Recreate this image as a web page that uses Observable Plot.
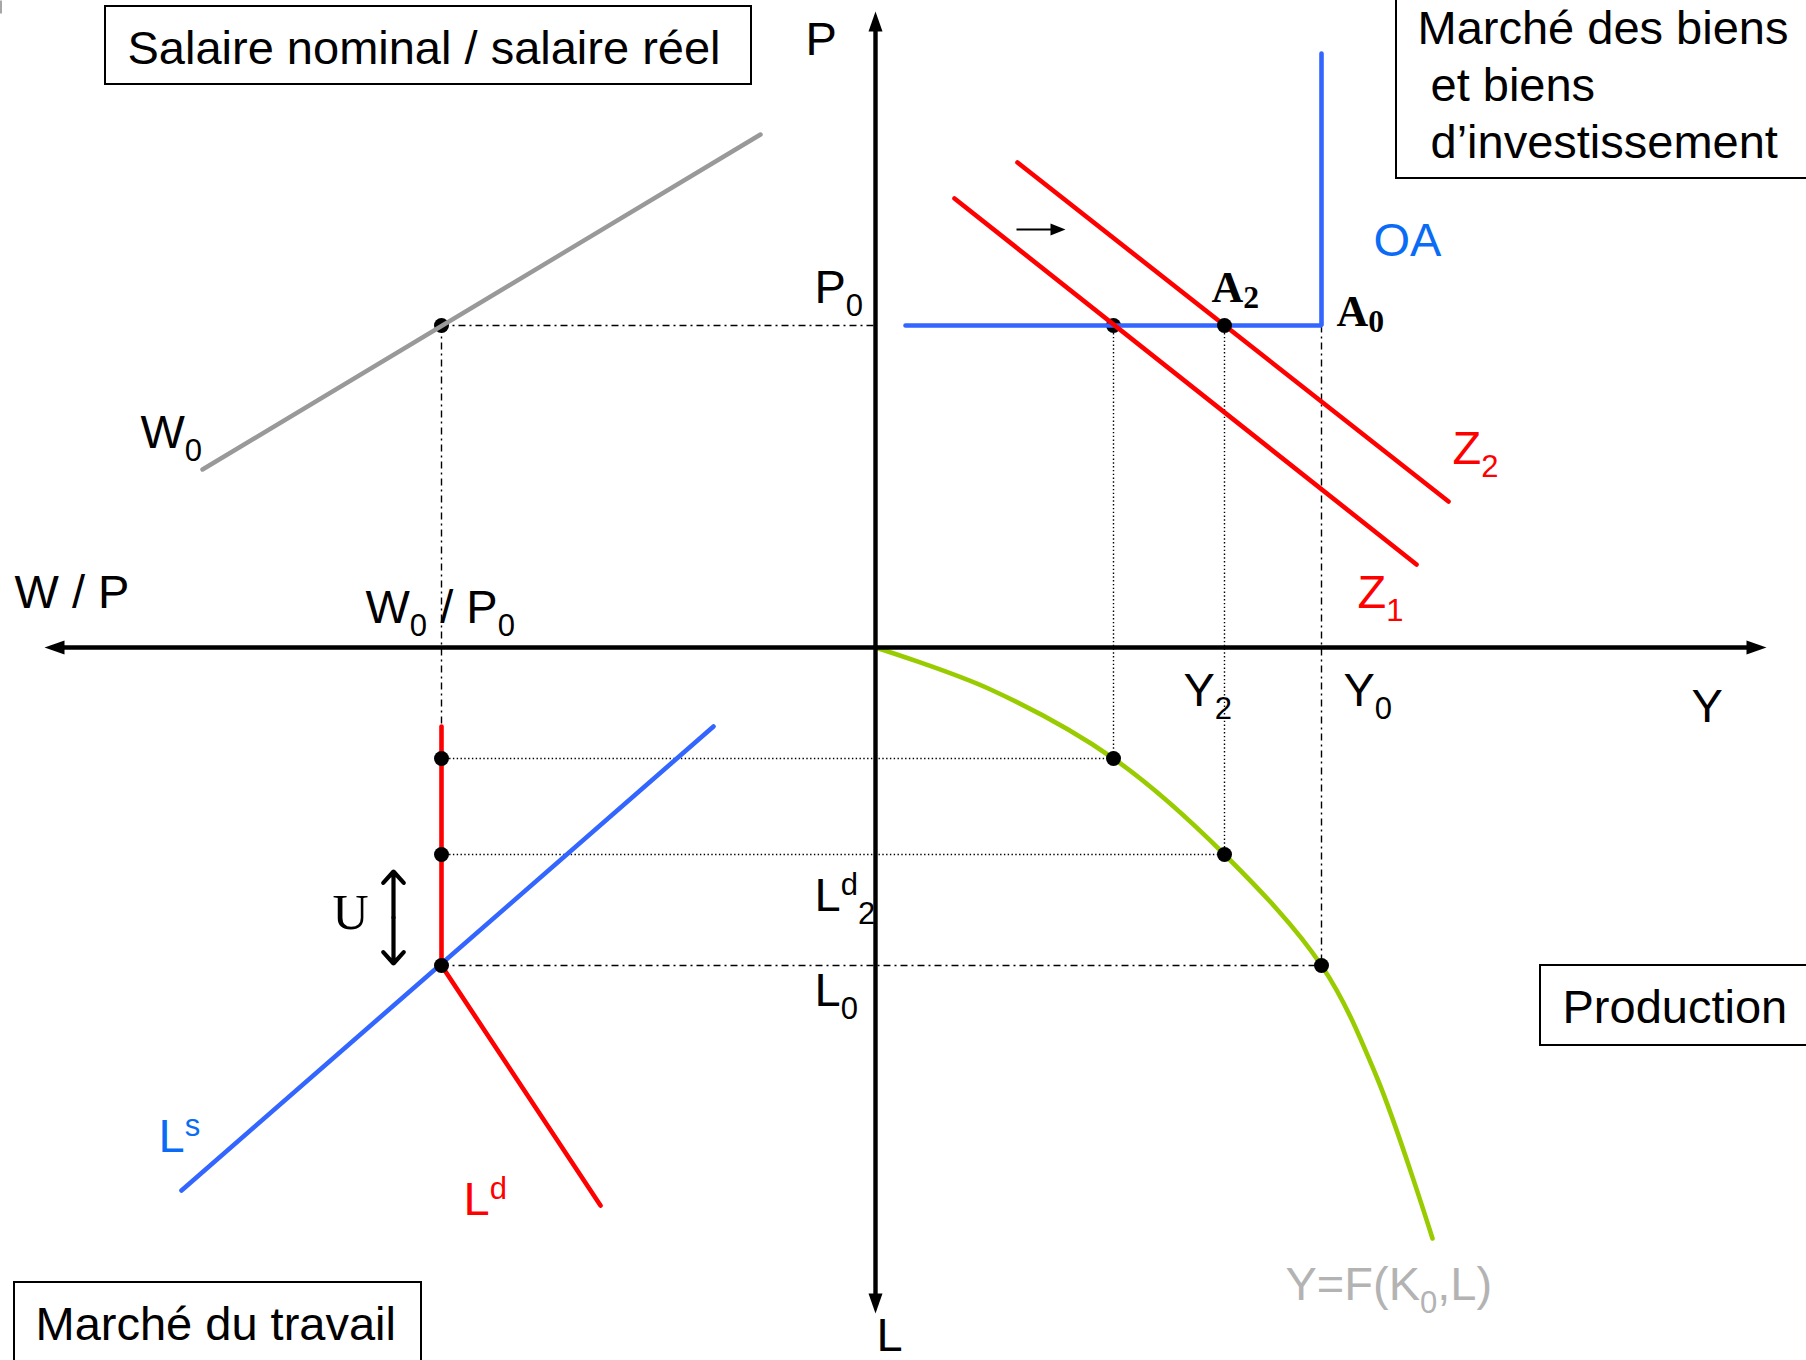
<!DOCTYPE html>
<html><head><meta charset="utf-8">
<script src="https://cdn.jsdelivr.net/npm/d3@7"></script>
<script src="https://cdn.jsdelivr.net/npm/@observablehq/plot@0.6"></script>
<style>html,body{margin:0;padding:0;background:#fff;} #chart svg{display:block;}</style>
</head><body><div id="chart"></div>
<script>
// ---- data, in diagram units: origin where the axes cross, y upward ----
const axisTipsH = [-831, 891];          // W/P (left) and Y (right) arrow tips
const axisTipsV = [636, -666];          // P (top) and L (bottom) arrow tips
const wageW0 = [{x:-673,y:178},{x:-115,y:513}];
const supplyOA = [{x:30,y:322},{x:446,y:322},{x:446,y:594}];
const demandZ1 = [{x:79,y:449},{x:541,y:83}];
const demandZ2 = [{x:142,y:485},{x:573,y:146}];
const productionF = [{x:0,y:0},{x:115,y:-42},{x:238,y:-111},{x:349,y:-207},{x:446,y:-318},{x:501,y:-429},{x:557,y:-591}];
const laborSupply = [{x:-694,y:-543},{x:-162,y:-79}];
const laborDemand = [{x:-434,y:-318},{x:-275,y:-558}];
const rigidWage = [{x:-434,y:-79},{x:-434,y:-318}];
const dashDotGuides = [
  {x1:-434,y1:322,x2:0,y2:322},
  {x1:-434,y1:322,x2:-434,y2:-79},
  {x1:446,y1:322,x2:446,y2:-318},
  {x1:-434,y1:-318,x2:446,y2:-318}];
const dottedGuides = [
  {x1:238,y1:322,x2:238,y2:-111},
  {x1:349,y1:322,x2:349,y2:-207},
  {x1:-434,y1:-111,x2:238,y2:-111},
  {x1:-434,y1:-207,x2:349,y2:-207}];
const pointsUnder = [{x:-434,y:322},{x:238,y:322}];
const pointsOver = [{x:349,y:322},{x:-434,y:-111},{x:-434,y:-207},{x:-434,y:-318},{x:238,y:-111},{x:349,y:-207},{x:446,y:-318}];
const shiftArrow = {x1:141, x2:190, y:418};
const unemploymentArrow = {x:-482, y1:-224, y2:-316};
const boxes = [
  {x1:-770,x2:-124,y1:641,y2:563},
  {x1:521,x2:945,y1:660,y2:469},
  {x1:665,x2:945,y1:-318,y2:-398},
  {x1:-861,x2:-454,y1:-635,y2:-725}];
const cornerMark = [{x1:-874.5,y1:647,x2:-874.5,y2:634}];

const blackLabels = [
  {x:-748,y:584,text:"Salaire nominal / salaire réel"},
  {x:-70,y:593,text:"P"},
  {x:542,y:604,text:"Marché des biens"},
  {x:555,y:547,text:"et biens"},
  {x:555,y:490,text:"d’investissement"},
  {x:-61,y:345,text:"P_0"},
  {x:-735,y:200,text:"W_0"},
  {x:-861,y:40,text:"W / P"},
  {x:-510,y:25,text:"W_0 / P_0"},
  {x:308,y:-58,text:"Y_2"},
  {x:468,y:-58,text:"Y_0"},
  {x:816,y:-74,text:"Y"},
  {x:-61,y:-263,text:"L^d_2"},
  {x:-61,y:-358,text:"L_0"},
  {x:687,y:-375,text:"Production"},
  {x:-840,y:-692,text:"Marché du travail"},
  {x:1,y:-703,text:"L"}];
const redLabels = [
  {x:577,y:184,text:"Z_2"},
  {x:482,y:40,text:"Z_1"},
  {x:-412,y:-567,text:"L^d"}];
const blueLabels = [
  {x:498,y:392,text:"OA"},
  {x:-717,y:-504,text:"L^s"}];
const grayLabels = [{x:410,y:-652,text:"Y=F(K_0,L)"}];
const serifBoldLabels = [
  {x:336,y:346,text:"A_2"},
  {x:461,y:322,text:"A_0"}];
const serifLabels = [{x:-543,y:-281,text:"U"}];

// ---- helpers ----
const W = 1806, H = 1360;
const SANS = '"Liberation Sans", Arial, Helvetica, sans-serif';
const SERIF = '"Liberation Serif", "Times New Roman", serif';
const ctx = document.createElement("canvas").getContext("2d");

function parse(str) {
  const parts = []; let buf = "";
  for (let i = 0; i < str.length; i++) {
    const c = str[i];
    if ((c === "_" || c === "^") && i + 1 < str.length) {
      if (buf) { parts.push({t: buf, k: "n"}); buf = ""; }
      parts.push({t: str[i + 1], k: c === "_" ? "sub" : "sup"});
      i++;
    } else buf += c;
  }
  if (buf) parts.push({t: buf, k: "n"});
  return parts;
}
function layout(labels, size, family, weight, subDrop, supRise, subScale = 0.66) {
  const out = [];
  for (const lab of labels) {
    let x = lab.x;
    for (const p of parse(lab.text)) {
      const s = p.k === "n" ? size : size * subScale;
      const dy = p.k === "sub" ? -size * subDrop : p.k === "sup" ? size * supRise : 0;
      ctx.font = `${weight} ${s}px ${family}`;
      const lead = p.t.match(/^\s*/)[0];
      out.push({x: x + ctx.measureText(lead).width, y: lab.y + dy, t: p.t.trim(), s});
      x += ctx.measureText(p.t).width;
    }
  }
  return out;
}
function textMark(data, fill, family, weight) {
  return Plot.text(data, {x: "x", y: "y", text: "t", fontSize: d => d.s, textAnchor: "start",
    lineAnchor: "bottom", fill, fontFamily: family, fontWeight: weight});
}
const spike = {draw(c, l, r) { c.moveTo(-r, 0); c.lineTo(0, -l); c.lineTo(r, 0); c.closePath(); }};

const axisLines = [
  {x1: axisTipsH[0] + 12, y1: 0, x2: axisTipsH[1] - 12, y2: 0},
  {x1: 0, y1: axisTipsV[0] - 12, x2: 0, y2: axisTipsV[1] + 12}];
const axisHeads = [
  {x: axisTipsH[0], y: 0, rotate: -90},
  {x: axisTipsH[1], y: 0, rotate: 90},
  {x: 0, y: axisTipsV[0], rotate: 0},
  {x: 0, y: axisTipsV[1], rotate: 180}];
const shiftLine = [{x1: shiftArrow.x1, y1: shiftArrow.y, x2: shiftArrow.x2 - 8, y2: shiftArrow.y}];
const shiftHead = [{x: shiftArrow.x2, y: shiftArrow.y, rotate: 90}];
const uMid = (unemploymentArrow.y1 + unemploymentArrow.y2) / 2;
const uArrows = [
  {x1: unemploymentArrow.x, y1: uMid, x2: unemploymentArrow.x, y2: unemploymentArrow.y1},
  {x1: unemploymentArrow.x, y1: uMid, x2: unemploymentArrow.x, y2: unemploymentArrow.y2}];

const LW = 4.6;
const link = (data, o) => Plot.link(data, {x1: "x1", y1: "y1", x2: "x2", y2: "y2", ...o});
const line = (data, o) => Plot.line(data, {x: "x", y: "y", ...o});

const chart = Plot.plot({
  width: W, height: H,
  marginTop: 0, marginRight: 0, marginBottom: 0, marginLeft: 0,
  x: {domain: [-875, 931], range: [0, W], axis: null},
  y: {domain: [-713, 647], range: [H, 0], axis: null},
  style: {background: "white", fontFamily: SANS},
  marks: [
    Plot.rect(boxes, {x1: "x1", x2: "x2", y1: "y1", y2: "y2", fill: "white", stroke: "black", strokeWidth: 2}),
    link(cornerMark, {stroke: "#888", strokeWidth: 1.5}),
    link(dashDotGuides, {stroke: "black", strokeWidth: 1.4, strokeDasharray: "7,4,2,4"}),
    link(dottedGuides, {stroke: "black", strokeWidth: 1.4, strokeDasharray: "1.4,2.4"}),
    Plot.dot(pointsUnder, {x: "x", y: "y", r: 7.5, fill: "black"}),
    line(wageW0, {stroke: "#999999", strokeWidth: 4.4}),
    line(supplyOA, {stroke: "#3366FF", strokeWidth: LW, strokeLinejoin: "miter"}),
    line(demandZ1, {stroke: "#FF0000", strokeWidth: LW}),
    line(demandZ2, {stroke: "#FF0000", strokeWidth: LW}),
    line(productionF, {stroke: "#99CC00", strokeWidth: LW, curve: "catmull-rom"}),
    line(laborSupply, {stroke: "#3366FF", strokeWidth: LW}),
    line(laborDemand, {stroke: "#FF0000", strokeWidth: LW}),
    line(rigidWage, {stroke: "#FF0000", strokeWidth: LW}),
    link(axisLines, {stroke: "black", strokeWidth: 4.4}),
    Plot.vector(axisHeads, {x: "x", y: "y", rotate: "rotate", length: 20, r: 7, anchor: "end",
      shape: spike, fill: "black", stroke: "none"}),
    link(shiftLine, {stroke: "black", strokeWidth: 2.2}),
    Plot.vector(shiftHead, {x: "x", y: "y", rotate: "rotate", length: 15, r: 6, anchor: "end",
      shape: spike, fill: "black", stroke: "none"}),
    Plot.arrow(uArrows, {x1: "x1", y1: "y1", x2: "x2", y2: "y2", stroke: "black", strokeWidth: 4.2,
      headLength: 6, headAngle: 84}),
    Plot.dot(pointsOver, {x: "x", y: "y", r: 7.5, fill: "black"}),
    textMark(layout(blackLabels, 47, SANS, "normal", 0.28, 0.33), "black", SANS, "normal"),
    textMark(layout(redLabels, 47, SANS, "normal", 0.28, 0.33), "#FF0000", SANS, "normal"),
    textMark(layout(blueLabels, 47, SANS, "normal", 0.28, 0.33), "#0A6CF5", SANS, "normal"),
    textMark(layout(grayLabels, 47, SANS, "normal", 0.28, 0.33), "#B3B3B3", SANS, "normal"),
    textMark(layout(serifBoldLabels, 44, SERIF, "bold", 0.15, 0.33, 0.72), "black", SERIF, "bold"),
    textMark(layout(serifLabels, 50, SERIF, "normal", 0.28, 0.33), "black", SERIF, "normal")
  ]
});
document.getElementById("chart").appendChild(chart);
</script>
</body></html>
